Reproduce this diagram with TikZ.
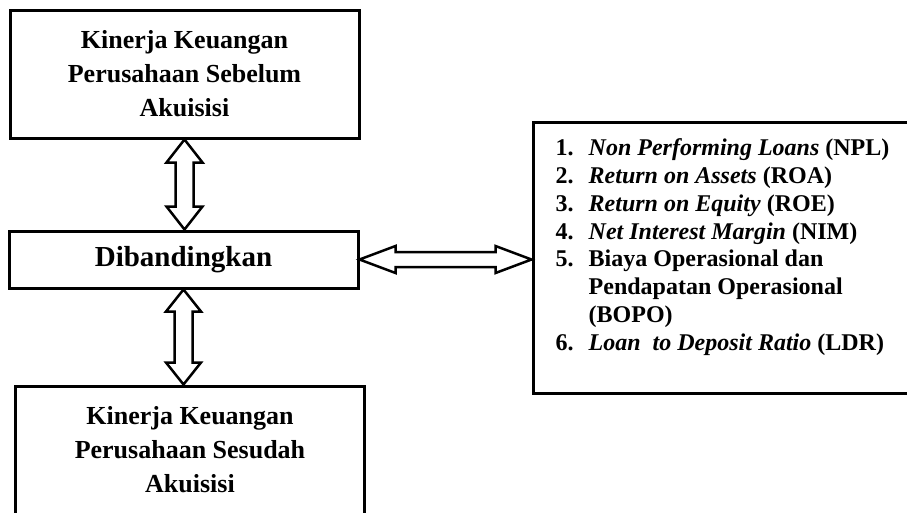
\documentclass[tikz,border=0pt]{standalone}
\usepackage{fontspec}
\setmainfont{Liberation Serif}
\usetikzlibrary{calc,positioning}

\tikzset{
    kinerja/.style={draw, line width=3pt, rectangle, minimum width=349pt, minimum height=128pt, align=center, font=\fontsize{26}{34}\selectfont\bfseries},
    arrowline/.style={draw, line width=2.5pt, fill=white, line join=miter}
}

% double block arrow: from, to, head length, half head width, half shaft width
\newcommand{\dblarrow}[5]{%
    \draw[arrowline] let \p1=(#1), \p2=(#2),
        \n1={atan2(\y2-\y1,\x2-\x1)}, \n2={veclen(\x2-\x1,\y2-\y1)} in
        {[shift={(\p1)}, rotate=\n1]
        (0pt,0pt) -- (#3,#4) -- (#3,#5) -- ({\n2*1pt-#3},#5) -- ({\n2*1pt-#3},#4)
        -- ({\n2*1pt},0pt) -- ({\n2*1pt-#3},-#4) -- ({\n2*1pt-#3},-#5) -- (#3,-#5) -- (#3,-#4) -- cycle};
}

\begin{document}
\begin{tikzpicture}[x=1pt, y=1pt]
    \useasboundingbox (0,0) rectangle (907,-512);

    \node[kinerja] (sebelum) at (184.5,-74) {Kinerja Keuangan\\Perusahaan Sebelum\\Akuisisi};
    \node[draw, line width=3pt, minimum width=349pt, minimum height=57pt, font=\fontsize{29}{34}\selectfont\bfseries] (banding) at (183.5,-259.5) {Dibandingkan};
    \node[kinerja] (sesudah) at (190,-450) {Kinerja Keuangan\\Perusahaan Sesudah\\Akuisisi};

    \node[draw, line width=3pt, minimum width=380pt, minimum height=271pt] (rasio) at (723,-257.5) {};
    \node[anchor=north west, inner sep=0pt, align=left, font=\fontsize{24}{27.8}\selectfont\bfseries, below right=18pt and 24pt of rasio.north west] (daftar) {%
        \makebox[33pt][l]{1.}\textit{Non Performing Loans} (NPL)\\
        \makebox[33pt][l]{2.}\textit{Return on Assets} (ROA)\\
        \makebox[33pt][l]{3.}\textit{Return on Equity} (ROE)\\
        \makebox[33pt][l]{4.}\textit{Net Interest Margin} (NIM)\\
        \makebox[33pt][l]{5.}Biaya Operasional dan\\
        \hspace*{33pt}Pendapatan Operasional\\
        \hspace*{33pt}(BOPO)\\
        \makebox[33pt][l]{6.}\textit{Loan\ \ to Deposit Ratio} (LDR)};

    \dblarrow{sebelum.south}{sebelum.south |- banding.north}{23pt}{18pt}{9pt}
    \dblarrow{banding.south}{banding.south |- sesudah.north}{22pt}{17.5pt}{9pt}
    \dblarrow{banding.east}{banding.east -| rasio.west}{36pt}{13.5pt}{7.5pt}
\end{tikzpicture}
\end{document}
